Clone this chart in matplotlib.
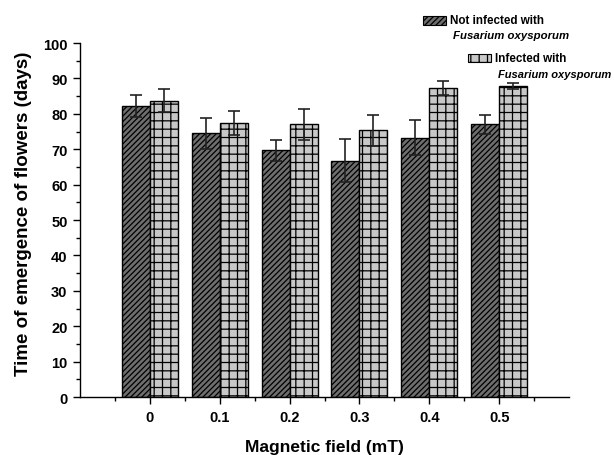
import numpy as np
import matplotlib
matplotlib.use('Agg')
import matplotlib.pyplot as plt
from matplotlib.patches import Rectangle
from matplotlib.ticker import MultipleLocator

# data
fields = [0, 0.1, 0.2, 0.3, 0.4, 0.5]
tick_labels = ['0', '0.1', '0.2', '0.3', '0.4', '0.5']
not_infected = [82.2, 74.5, 69.7, 66.8, 73.3, 77.0]
not_infected_err = [3.0, 4.4, 3.0, 6.1, 4.9, 2.8]
infected = [83.7, 77.3, 77.0, 75.3, 87.4, 87.9]
infected_err = [3.3, 3.4, 4.4, 4.4, 2.0, 0.9]

plt.rcParams['font.family'] = ['Liberation Sans', 'DejaVu Sans']
plt.rcParams['font.weight'] = 'bold'
plt.rcParams['hatch.linewidth'] = 0.9

fig = plt.figure(figsize=(6.14, 4.56), dpi=100)
ax = fig.add_axes([80/614, 1-398/456, 489/614, 354/456])

x = np.array(fields)
w = 0.04
ax.bar(x - w/2, not_infected, w, color='#6e6e6e', edgecolor='black',
       hatch='//////', linewidth=1.0, zorder=2)
ax.bar(x + w/2, infected, w, color='#c8c8c8', edgecolor='black',
       hatch='++', linewidth=1.0, zorder=2)
ax.errorbar(x - w/2, not_infected, yerr=not_infected_err, fmt='none',
            ecolor='#222222', elinewidth=1.2, capsize=4.3, capthick=1.2, zorder=3)
ax.errorbar(x + w/2, infected, yerr=infected_err, fmt='none',
            ecolor='#222222', elinewidth=1.2, capsize=4.3, capthick=1.2, zorder=3)

ax.set_xlim(-0.1, 0.6)
ax.set_ylim(0, 100)
ax.set_xticks(fields)
ax.set_xticklabels(tick_labels)
ax.set_xticks(np.arange(-0.05, 0.6, 0.1), minor=True)
ax.yaxis.set_major_locator(MultipleLocator(10))
ax.yaxis.set_minor_locator(MultipleLocator(5))
ax.tick_params(which='major', direction='out', length=5, width=1, labelsize=10.5, pad=4)
ax.tick_params(which='minor', direction='out', length=3, width=1)
for lab in ax.get_xticklabels() + ax.get_yticklabels():
    lab.set_fontweight('bold')

ax.spines['top'].set_visible(False)
ax.spines['right'].set_visible(False)
ax.spines['left'].set_linewidth(1)
ax.spines['bottom'].set_linewidth(1)

ax.set_xlabel('Magnetic field (mT)', fontsize=12.5, fontweight='bold', labelpad=11)
ax.set_ylabel('Time of emergence of flowers (days)', fontsize=13.5, fontweight='bold', labelpad=6)
ax.yaxis.set_label_coords(-0.098, 0.52)

# legend drawn by hand in figure pixels
def px(xp, yp):
    return xp / 614, 1 - yp / 456

r1 = Rectangle(px(423, 26), 23/614, 9/456, transform=fig.transFigure,
               facecolor='#6e6e6e', edgecolor='black', hatch='//////', linewidth=0.8)
r2 = Rectangle(px(468, 63), 23/614, 8/456, transform=fig.transFigure,
               facecolor='#c8c8c8', edgecolor='black', hatch='++', linewidth=0.8)
fig.patches.extend([r1, r2])
fig.text(*px(450, 21), 'Not infected with', fontsize=8.4, fontweight='bold', va='center')
fig.text(*px(453, 36), 'Fusarium oxysporum', fontsize=8.2, fontweight='bold',
         style='italic', va='center')
fig.text(*px(495, 59), 'Infected with', fontsize=8.4, fontweight='bold', va='center')
fig.text(*px(498, 75), 'Fusarium oxysporum', fontsize=8.0, fontweight='bold',
         style='italic', va='center')

fig.savefig('out.png', dpi=100)
